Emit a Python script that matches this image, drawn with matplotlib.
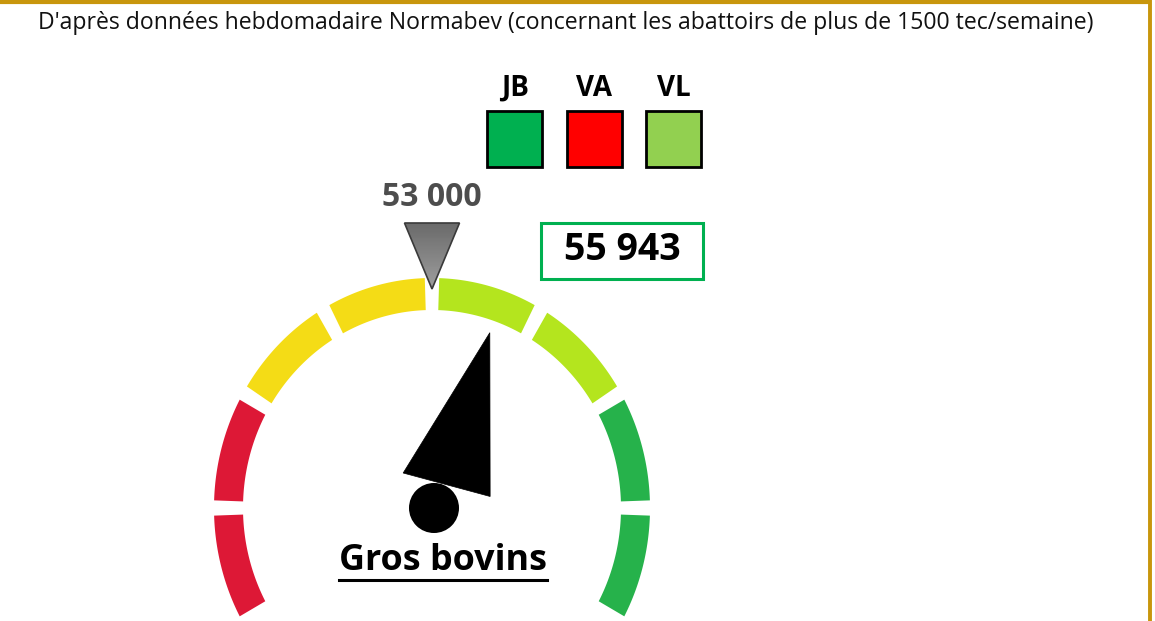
"""Gauge 'Gros bovins' (Normabev weekly slaughter, tec) redrawn with matplotlib."""

import numpy as np
import matplotlib

matplotlib.use("Agg")
import matplotlib.pyplot as plt
from matplotlib.patches import Polygon, Circle, Rectangle

# --- data -------------------------------------------------------------------
GAUGE_MIN, GAUGE_MAX = 33000, 73000
BAND_EDGES = [33000, 38000, 43000, 48000, 53000, 58000, 63000, 68000, 73000]
BAND_COLORS = ["#dd1836", "#dd1836", "#f4dc16", "#f4dc16",
               "#b4e51e", "#b4e51e", "#26b24b", "#26b24b"]
TARGET = 53000
VALUE = 55943
TARGET_LABEL = "53 000"
VALUE_LABEL = "55 943"
LEGEND_LABELS = ["JB", "VA", "VL"]
LEGEND_COLORS = ["#00b050", "#ff0000", "#92d050"]
TITLE = ("D'après données hebdomadaire Normabev "
         "(concernant les abattoirs de plus de 1500 tec/semaine)")
GAUGE_LABEL = "Gros bovins"

W, H = 1155, 621
CX, CY = 432, 508            # gauge centre (pixels)
RX, RY = 218, 230            # outer radii
RX_IN, RY_IN = 189, 198      # inner radii
GAP = 3.8                    # degrees between segments
FONT = "Open Sans"


def angle(v):
    return 210 - (v - GAUGE_MIN) / (GAUGE_MAX - GAUGE_MIN) * 240


def fit(fig, t, width):
    fig.canvas.draw()
    t.set_fontsize(t.get_fontsize() * width / t.get_window_extent().width)


def main():
    fig = plt.figure(figsize=(W / 100, H / 100), dpi=100)
    ax = fig.add_axes([0, 0, 1, 1])
    ax.set_xlim(0, W)
    ax.set_ylim(H, 0)
    ax.axis("off")

    # frame lines (top and right)
    ax.plot([0, 1150], [2, 2], color="#c8960c", lw=3, solid_capstyle="butt")
    ax.plot([1150, 1150], [0, H], color="#c8960c", lw=2.8, solid_capstyle="butt")

    t = ax.text(566, 23, TITLE, ha="center", va="center", fontsize=14,
                family=FONT, color="#111111")
    fit(fig, t, 1063)

    # gauge bands
    for lo, hi, c in zip(BAND_EDGES[:-1], BAND_EDGES[1:], BAND_COLORS):
        th = np.radians(np.linspace(angle(lo) - GAP / 2, angle(hi) + GAP / 2, 60))
        outer = np.c_[CX + RX * np.cos(th), CY - RY * np.sin(th)]
        inner = np.c_[CX + RX_IN * np.cos(th[::-1]), CY - RY_IN * np.sin(th[::-1])]
        ax.add_patch(Polygon(np.r_[outer, inner], closed=True, fc=c, ec="none"))

    # needle
    a = np.radians(angle(VALUE))
    u = np.array([np.cos(a), -np.sin(a)])
    p = np.array([-np.sin(a), -np.cos(a)])
    c0 = np.array([CX + 2, CY])
    pts = [c0 + 184 * u, c0 + 24 * u + 40 * p, c0 + 28 * u - 50 * p]
    ax.add_patch(Polygon(pts, closed=True, fc="black", ec="black", lw=0.5))
    ax.add_patch(Circle((CX + 2, CY), 25, fc="black", ec="none"))

    # target marker with grey gradient
    a = np.radians(angle(TARGET))
    tx, ty = CX + RY * 0.95 * np.cos(a), CY - 219 * np.sin(a)
    tri = Polygon([(tx, ty), (tx - 27.5, ty - 66), (tx + 27.5, ty - 66)],
                  closed=True, fc="none", ec="#3a3a3a", lw=1.2, zorder=4)
    ax.add_patch(tri)
    grad = np.linspace(0.42, 0.62, 50)[:, None]
    im = ax.imshow(grad, cmap="gray", vmin=0, vmax=1, aspect="auto",
                   extent=(tx - 28, tx + 28, ty, ty - 66), zorder=3)
    im.set_clip_path(tri)
    ax.set_xlim(0, W)
    ax.set_ylim(H, 0)
    ax.text(tx, 198, TARGET_LABEL, ha="center", va="center", fontsize=23,
            weight="bold", family=FONT, color="#4d4d4d")

    # current value box
    ax.add_patch(Rectangle((541, 223), 162, 56, fc="white", ec="#00b050", lw=2.2))
    ax.text(622, 250, VALUE_LABEL, ha="center", va="center", fontsize=27,
            weight="bold", family=FONT, color="black")

    # legend squares
    for i, (lab, col) in enumerate(zip(LEGEND_LABELS, LEGEND_COLORS)):
        x0 = 487 + i * 79.5
        ax.add_patch(Rectangle((x0, 111), 55, 56, fc=col, ec="black", lw=2))
        ax.text(x0 + 28, 88, lab, ha="center", va="center", fontsize=20,
                weight="bold", family=FONT, color="black")

    # gauge title, underlined
    g = ax.text(443, 561, GAUGE_LABEL, ha="center", va="center", fontsize=26,
                weight="bold", family=FONT, color="black")
    fit(fig, g, 208)
    bb = g.get_window_extent().transformed(ax.transData.inverted())
    ax.plot([bb.x0, bb.x1], [580, 580], color="black", lw=2.2)

    fig.savefig("out.png", dpi=100, facecolor="white")
    plt.close(fig)


if __name__ == "__main__":
    main()
